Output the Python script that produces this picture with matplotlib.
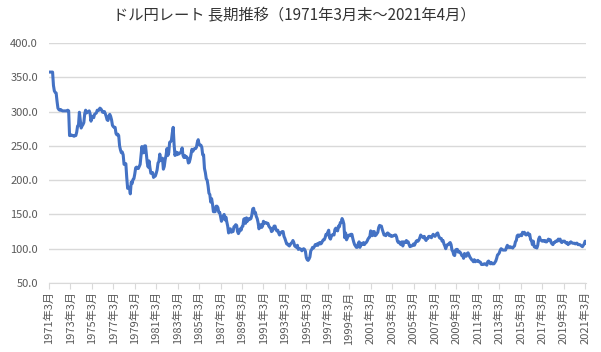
import numpy as np
import matplotlib.pyplot as plt

# month-end USD/JPY, 1971/3 .. 2021/4
rates_1971 = [357.6, 357.6, 357.6, 357.6, 357.6, 338, 330, 328, 327, 315]
rates_1972 = [305, 303, 302, 303, 302, 301, 301, 301, 301, 301, 301, 302]
rates_1973 = [301, 265, 265, 266, 265, 265, 264, 265, 265, 270, 279, 280]
rates_1974 = [299, 287, 276, 279, 281, 284, 297, 302, 298, 299, 300, 301]
rates_1975 = [297, 286, 293, 293, 291, 296, 297, 298, 302, 302, 302, 305]
rates_1976 = [304, 302, 299, 299, 300, 297, 293, 288, 287, 293, 296, 293]
rates_1977 = [288, 280, 278, 277, 277, 268, 266, 267, 265, 250, 244, 240]
rates_1978 = [241, 237, 223, 223, 224, 204, 188, 190, 189, 180, 197, 195]
rates_1979 = [201, 202, 209, 218, 219, 217, 217, 220, 223, 236, 249, 240]
rates_1980 = [240, 250, 250, 238, 225, 219, 228, 218, 210, 211, 211, 204]
rates_1981 = [206, 206, 210, 215, 225, 227, 238, 229, 230, 232, 216, 220]
rates_1982 = [230, 236, 246, 236, 240, 255, 256, 258, 269, 277, 252, 236]
rates_1983 = [241, 237, 240, 238, 239, 240, 242, 247, 236, 233, 236, 233]
rates_1984 = [234, 232, 225, 226, 231, 238, 245, 242, 245, 246, 246, 248]
rates_1985 = [255, 259, 252, 251, 251, 248, 237, 237, 217, 211, 202, 200]
rates_1986 = [192, 181, 179, 168, 173, 165, 154, 154, 154, 162, 162, 160]
rates_1987 = [153, 153, 147, 140, 144, 147, 150, 142, 146, 139, 133, 123]
rates_1988 = [128, 129, 124, 125, 125, 132, 133, 135, 134, 125, 122, 125]
rates_1989 = [129, 127, 132, 133, 143, 144, 137, 145, 140, 142, 144, 143]
rates_1990 = [144, 149, 158, 159, 152, 153, 147, 144, 138, 129, 132, 135]
rates_1991 = [131, 133, 140, 137, 138, 138, 137, 137, 133, 131, 130, 125]
rates_1992 = [126, 130, 133, 133, 128, 126, 127, 123, 120, 123, 124, 125]
rates_1993 = [125, 118, 115, 111, 107, 107, 105, 104, 106, 108, 109, 112]
rates_1994 = [109, 104, 103, 102, 105, 99, 100, 100, 99, 97, 99, 100]
rates_1995 = [99, 96, 87, 84, 83, 85, 88, 97, 99, 102, 101, 103]
rates_1996 = [106, 105, 107, 105, 108, 109, 107, 108, 111, 113, 113, 116]
rates_1997 = [121, 120, 124, 127, 116, 114, 118, 120, 121, 120, 128, 130]
rates_1998 = [127, 126, 133, 132, 138, 138, 144, 141, 136, 116, 123, 113]
rates_1999 = [116, 119, 120, 119, 121, 121, 115, 110, 106, 104, 102, 102]
rates_2000 = [107, 110, 102, 108, 107, 106, 109, 106, 108, 109, 111, 114]
rates_2001 = [116, 117, 126, 124, 119, 125, 125, 119, 120, 122, 124, 131]
rates_2002 = [134, 133, 133, 128, 124, 120, 120, 119, 122, 123, 122, 119]
rates_2003 = [120, 118, 118, 119, 119, 120, 120, 117, 111, 109, 110, 107]
rates_2004 = [106, 110, 104, 110, 109, 109, 112, 109, 110, 106, 103, 104]
rates_2005 = [104, 105, 107, 105, 108, 111, 112, 111, 113, 116, 120, 118]
rates_2006 = [117, 116, 118, 114, 112, 115, 115, 118, 118, 117, 116, 119]
rates_2007 = [121, 119, 118, 120, 122, 123, 119, 116, 115, 115, 111, 112]
rates_2008 = [107, 104, 100, 104, 106, 106, 108, 109, 106, 98, 96, 91]
rates_2009 = [90, 98, 99, 99, 95, 96, 95, 93, 90, 90, 86, 93]
rates_2010 = [90, 89, 93, 94, 91, 88, 86, 84, 83, 81, 84, 81]
rates_2011 = [82, 82, 83, 81, 81, 80, 77, 77, 77, 78, 78, 77]
rates_2012 = [76, 81, 82, 80, 78, 80, 78, 78, 78, 80, 82, 86]
rates_2013 = [91, 92, 94, 98, 100, 99, 98, 98, 98, 98, 102, 105]
rates_2014 = [102, 102, 103, 102, 102, 101, 103, 104, 110, 112, 119, 120]
rates_2015 = [118, 120, 120, 119, 124, 122, 124, 121, 120, 121, 123, 120]
rates_2016 = [121, 113, 112, 106, 111, 103, 102, 103, 101, 105, 114, 117]
rates_2017 = [113, 112, 111, 112, 111, 112, 110, 110, 112, 114, 112, 113]
rates_2018 = [109, 107, 106, 109, 109, 111, 111, 111, 114, 113, 114, 110]
rates_2019 = [109, 111, 111, 111, 109, 108, 109, 106, 108, 108, 110, 109]
rates_2020 = [108, 108, 108, 107, 108, 108, 106, 106, 106, 105, 104, 103]
rates_2021 = [105, 107, 111, 109]

rates = (rates_1971 + rates_1972 + rates_1973 + rates_1974 + rates_1975 + rates_1976
         + rates_1977 + rates_1978 + rates_1979 + rates_1980 + rates_1981 + rates_1982
         + rates_1983 + rates_1984 + rates_1985 + rates_1986 + rates_1987 + rates_1988
         + rates_1989 + rates_1990 + rates_1991 + rates_1992 + rates_1993 + rates_1994
         + rates_1995 + rates_1996 + rates_1997 + rates_1998 + rates_1999 + rates_2000
         + rates_2001 + rates_2002 + rates_2003 + rates_2004 + rates_2005 + rates_2006
         + rates_2007 + rates_2008 + rates_2009 + rates_2010 + rates_2011 + rates_2012
         + rates_2013 + rates_2014 + rates_2015 + rates_2016 + rates_2017 + rates_2018
         + rates_2019 + rates_2020 + rates_2021)

tick_years = list(range(1971, 2022, 2))
tick_labels = [f"{y}年3月" for y in tick_years]

plt.rcParams['font.family'] = ['Noto Sans CJK JP', 'DejaVu Sans']

fig = plt.figure(figsize=(6.01, 3.52), dpi=100)
ax = fig.add_axes([49 / 601, 1 - 283 / 352, (586 - 49) / 601, (283 - 43) / 352])

x = np.arange(len(rates))
ax.plot(x, rates, color="#4472C4", linewidth=2.2, solid_joinstyle="round")

ax.set_xlim(0, len(rates) - 1)
ax.set_ylim(50, 400)
ax.set_yticks(np.arange(50, 401, 50))
ax.set_yticklabels([f"{v:.1f}" for v in np.arange(50, 401, 50)])
ax.set_xticks([(y - 1971) * 12 for y in tick_years])
ax.set_xticklabels(tick_labels, rotation=90)

ax.grid(axis="y", color="#D9D9D9", linewidth=1)
ax.set_axisbelow(True)
for side in ["top", "right", "left"]:
    ax.spines[side].set_visible(False)
ax.spines["bottom"].set_color("#D9D9D9")
ax.tick_params(axis="y", length=0, labelsize=8, labelcolor="#595959", pad=8)
ax.tick_params(axis="x", length=4, color="#D9D9D9", labelsize=8, labelcolor="#595959", pad=2)

fig.text(0.49, 0.955, "ドル円レート 長期推移（1971年3月末～2021年4月）",
         ha="center", va="center", fontsize=11, color="#333333")

fig.savefig("out.png", dpi=100)
